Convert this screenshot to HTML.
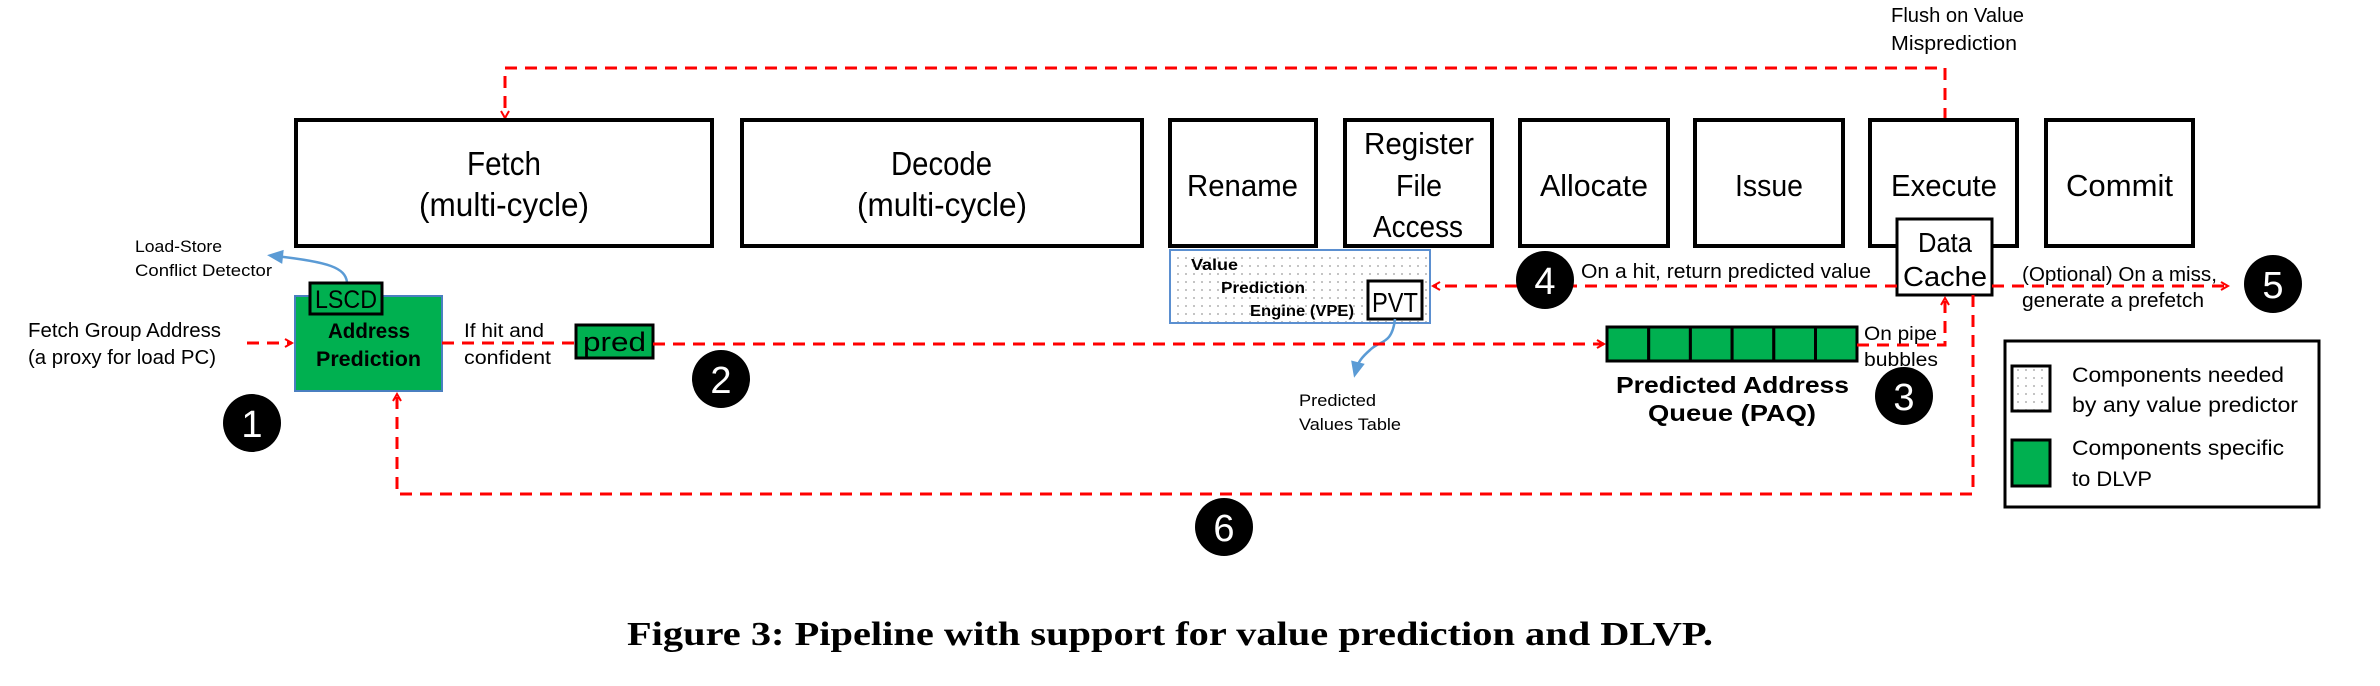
<!DOCTYPE html>
<html><head><meta charset="utf-8"><style>
html,body{margin:0;padding:0;background:#fff;}
svg{display:block;}
.r{stroke:#f00;stroke-width:3;stroke-dasharray:12 8;fill:none;}
.box{fill:#fff;stroke:#000;stroke-width:4;}
</style></head><body>
<svg width="2380" height="686" viewBox="0 0 2380 686" xmlns="http://www.w3.org/2000/svg" font-family="Liberation Sans, sans-serif">
<defs>
<pattern id="dots" width="8" height="8" patternUnits="userSpaceOnUse"><rect width="8" height="8" fill="#fff"/><circle cx="2" cy="2" r="0.9" fill="#999"/></pattern>
<marker id="ar" markerWidth="10" markerHeight="10" refX="8" refY="5" orient="auto" markerUnits="userSpaceOnUse"><path d="M1,1 L8,5 L1,9" fill="none" stroke="#f00" stroke-width="2"/></marker>
<marker id="ab" markerWidth="20" markerHeight="20" refX="10" refY="10" orient="auto" markerUnits="userSpaceOnUse"><path d="M2,3 L18,10 L2,17 Z" fill="#5b9bd5"/></marker>
</defs>
<g lengthAdjust="spacingAndGlyphs">
<!-- flush line -->
<path class="r" d="M1945,120 V68 H505 V118" marker-end="url(#ar)"/>
<text x="1891" y="22" font-size="20" textLength="133" lengthAdjust="spacingAndGlyphs">Flush on Value</text>
<text x="1891" y="50" font-size="20" textLength="126" lengthAdjust="spacingAndGlyphs">Misprediction</text>

<!-- stage boxes -->
<rect class="box" x="296" y="120" width="416" height="126"/>
<text x="467" y="175" font-size="33" textLength="74" lengthAdjust="spacingAndGlyphs">Fetch</text>
<text x="419" y="216" font-size="33" textLength="170" lengthAdjust="spacingAndGlyphs">(multi-cycle)</text>
<rect class="box" x="742" y="120" width="400" height="126"/>
<text x="891" y="175" font-size="33" textLength="101" lengthAdjust="spacingAndGlyphs">Decode</text>
<text x="857" y="216" font-size="33" textLength="170" lengthAdjust="spacingAndGlyphs">(multi-cycle)</text>
<rect class="box" x="1170" y="120" width="146" height="126"/>
<text x="1187" y="196" font-size="31" textLength="111" lengthAdjust="spacingAndGlyphs">Rename</text>
<rect class="box" x="1345" y="120" width="147" height="126"/>
<text x="1364" y="154" font-size="31" textLength="110" lengthAdjust="spacingAndGlyphs">Register</text>
<text x="1396" y="196" font-size="31" textLength="46" lengthAdjust="spacingAndGlyphs">File</text>
<text x="1373" y="237" font-size="31" textLength="90" lengthAdjust="spacingAndGlyphs">Access</text>
<rect class="box" x="1520" y="120" width="148" height="126"/>
<text x="1540" y="196" font-size="31" textLength="108" lengthAdjust="spacingAndGlyphs">Allocate</text>
<rect class="box" x="1695" y="120" width="148" height="126"/>
<text x="1735" y="196" font-size="31" textLength="68" lengthAdjust="spacingAndGlyphs">Issue</text>
<rect class="box" x="1870" y="120" width="147" height="126"/>
<text x="1891" y="196" font-size="31" textLength="106" lengthAdjust="spacingAndGlyphs">Execute</text>
<rect class="box" x="2046" y="120" width="147" height="126"/>
<text x="2066" y="196" font-size="31" textLength="107" lengthAdjust="spacingAndGlyphs">Commit</text>

<!-- data cache -->
<rect x="1897" y="219" width="95" height="76" fill="#fff" stroke="#000" stroke-width="3"/>
<text x="1918" y="252" font-size="28" textLength="54" lengthAdjust="spacingAndGlyphs">Data</text>
<text x="1903" y="286" font-size="28" textLength="84" lengthAdjust="spacingAndGlyphs">Cache</text>

<!-- VPE -->
<rect x="1170" y="250" width="260" height="73" fill="url(#dots)" stroke="#5b8fd0" stroke-width="2"/>
<text x="1191" y="270" font-size="16" font-weight="bold" textLength="47" lengthAdjust="spacingAndGlyphs">Value</text>
<text x="1221" y="293" font-size="16" font-weight="bold" textLength="84" lengthAdjust="spacingAndGlyphs">Prediction</text>
<text x="1250" y="316" font-size="16" font-weight="bold" textLength="104" lengthAdjust="spacingAndGlyphs">Engine (VPE)</text>
<rect x="1368" y="281" width="54" height="38" fill="#fff" stroke="#000" stroke-width="3"/>
<text x="1372" y="312" font-size="28" textLength="46" lengthAdjust="spacingAndGlyphs">PVT</text>
<path d="M1395,319 C1392,345 1380,340 1370,350 C1362,357 1358,362 1356,370" fill="none" stroke="#5b9bd5" stroke-width="2.5" marker-end="url(#ab)"/>
<text x="1299" y="406" font-size="17" textLength="77" lengthAdjust="spacingAndGlyphs">Predicted</text>
<text x="1299" y="430" font-size="17" textLength="102" lengthAdjust="spacingAndGlyphs">Values Table</text>

<!-- hit return line -->
<path class="r" d="M1897,286 H1433" marker-end="url(#ar)"/>
<text x="1581" y="278" font-size="20" textLength="290" lengthAdjust="spacingAndGlyphs">On a hit, return predicted value</text>
<path class="r" d="M1992,286 H2228" marker-end="url(#ar)"/>
<text x="2022" y="281" font-size="20" textLength="195" lengthAdjust="spacingAndGlyphs">(Optional) On a miss,</text>
<text x="2022" y="307" font-size="20" textLength="182" lengthAdjust="spacingAndGlyphs">generate a prefetch</text>

<!-- left side -->
<text x="135" y="252" font-size="17" textLength="87" lengthAdjust="spacingAndGlyphs">Load-Store</text>
<text x="135" y="276" font-size="17" textLength="137" lengthAdjust="spacingAndGlyphs">Conflict Detector</text>
<path d="M347,282 C345,268 330,262 275,256" fill="none" stroke="#5b9bd5" stroke-width="2.5" marker-end="url(#ab)"/>
<text x="28" y="337" font-size="20" textLength="193" lengthAdjust="spacingAndGlyphs">Fetch Group Address</text>
<text x="28" y="364" font-size="20" textLength="188" lengthAdjust="spacingAndGlyphs">(a proxy for load PC)</text>
<path class="r" d="M247,343 H292" marker-end="url(#ar)"/>
<rect x="295" y="296" width="147" height="95" fill="#00b050" stroke="#4a7fc0" stroke-width="2"/>
<text x="328" y="338" font-size="21" font-weight="bold" textLength="82" lengthAdjust="spacingAndGlyphs">Address</text>
<text x="316" y="366" font-size="21" font-weight="bold" textLength="105" lengthAdjust="spacingAndGlyphs">Prediction</text>
<rect x="310" y="283" width="72" height="31" fill="#00b050" stroke="#000" stroke-width="3"/>
<text x="315" y="308" font-size="25" textLength="62" lengthAdjust="spacingAndGlyphs">LSCD</text>

<path class="r" d="M442,343 H575"/>
<text x="464" y="337" font-size="19" textLength="80" lengthAdjust="spacingAndGlyphs">If hit and</text>
<text x="464" y="364" font-size="19" textLength="87" lengthAdjust="spacingAndGlyphs">confident</text>
<rect x="576" y="325" width="77" height="33" fill="#00b050" stroke="#000" stroke-width="3"/>
<text x="583" y="351" font-size="27" textLength="63" lengthAdjust="spacingAndGlyphs">pred</text>
<path class="r" d="M653,344 H1604" marker-end="url(#ar)"/>

<!-- PAQ -->
<g fill="#00b050" stroke="#000" stroke-width="3">
<rect x="1607" y="327" width="41.7" height="34"/><rect x="1648.7" y="327" width="41.7" height="34"/>
<rect x="1690.4" y="327" width="41.7" height="34"/><rect x="1732.1" y="327" width="41.7" height="34"/>
<rect x="1773.8" y="327" width="41.7" height="34"/><rect x="1815.5" y="327" width="41.5" height="34"/>
</g>
<text x="1616" y="393" font-size="23" font-weight="bold" textLength="233" lengthAdjust="spacingAndGlyphs">Predicted Address</text>
<text x="1648" y="421" font-size="23" font-weight="bold" textLength="168" lengthAdjust="spacingAndGlyphs">Queue (PAQ)</text>
<text x="1864" y="340" font-size="19" textLength="73" lengthAdjust="spacingAndGlyphs">On pipe</text>
<text x="1864" y="366" font-size="19" textLength="74" lengthAdjust="spacingAndGlyphs">bubbles</text>
<path class="r" d="M1857,345 H1945 V298" marker-end="url(#ar)"/>

<!-- bottom loop -->
<path class="r" d="M1973,295 V494 H397 V394" marker-end="url(#ar)"/>

<!-- circles -->
<g font-size="38" text-anchor="middle" fill="#fff">
<ellipse cx="252" cy="423" rx="29" ry="29" fill="#000"/><text x="252" y="437">1</text>
<ellipse cx="721" cy="379" rx="29" ry="29" fill="#000"/><text x="721" y="393">2</text>
<ellipse cx="1904" cy="396" rx="29" ry="29" fill="#000"/><text x="1904" y="410">3</text>
<ellipse cx="1545" cy="280" rx="29" ry="29" fill="#000"/><text x="1545" y="294">4</text>
<ellipse cx="2273" cy="284" rx="29" ry="29" fill="#000"/><text x="2273" y="298">5</text>
<ellipse cx="1224" cy="527" rx="29" ry="29" fill="#000"/><text x="1224" y="541">6</text>
</g>

<!-- legend -->
<rect x="2005" y="341" width="314" height="166" fill="#fff" stroke="#000" stroke-width="3"/>
<rect x="2012" y="366" width="38" height="45" fill="url(#dots)" stroke="#000" stroke-width="3"/>
<rect x="2012" y="440" width="38" height="46" fill="#00b050" stroke="#000" stroke-width="3"/>
<text x="2072" y="382" font-size="21" textLength="212" lengthAdjust="spacingAndGlyphs">Components needed</text>
<text x="2072" y="412" font-size="21" textLength="226" lengthAdjust="spacingAndGlyphs">by any value predictor</text>
<text x="2072" y="455" font-size="21" textLength="212" lengthAdjust="spacingAndGlyphs">Components specific</text>
<text x="2072" y="486" font-size="21" textLength="80" lengthAdjust="spacingAndGlyphs">to DLVP</text>

<!-- caption -->
<text x="627" y="645" font-size="34" font-weight="bold" font-family="Liberation Serif, serif" textLength="1086" lengthAdjust="spacingAndGlyphs">Figure 3: Pipeline with support for value prediction and DLVP.</text>
</g>
</svg>
</body></html>
